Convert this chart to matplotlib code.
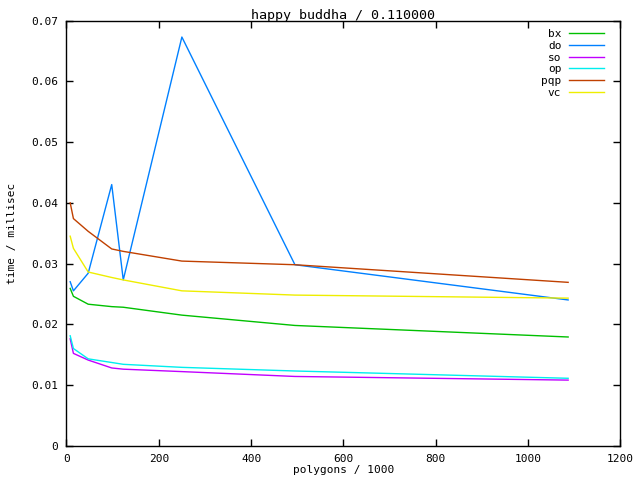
import matplotlib
matplotlib.use('Agg')
import matplotlib.pyplot as plt

# polygons / 1000 at each test level
polys = [8, 15, 47, 98, 123, 250, 495, 1087]

# time / millisec per method
bx = [0.0259, 0.0246, 0.0233, 0.0229, 0.0228, 0.0215, 0.0198, 0.0179]
do = [0.0270, 0.0255, 0.0284, 0.0430, 0.0273, 0.0673, 0.0298, 0.0240]
so = [0.0176, 0.0152, 0.0141, 0.0128, 0.0126, 0.0122, 0.0114, 0.0108]
op = [0.0181, 0.0160, 0.0143, 0.0137, 0.0134, 0.0129, 0.0123, 0.0111]
pqp = [0.0400, 0.0374, 0.0353, 0.0324, 0.0320, 0.0304, 0.0298, 0.0269]
vc = [0.0345, 0.0325, 0.0286, 0.0277, 0.0273, 0.0255, 0.0248, 0.0243]

names = ['bx', 'do', 'so', 'op', 'pqp', 'vc']
series = [bx, do, so, op, pqp, vc]
colors = ['#00c000', '#0080ff', '#c000ff', '#00eeee', '#c04000', '#eeee00']

xticks = [0, 200, 400, 600, 800, 1000, 1200]
yticks = [0, 0.01, 0.02, 0.03, 0.04, 0.05, 0.06, 0.07]
ylabels = ['0'] + ['%.2f' % t for t in yticks[1:]]

plt.rcParams['font.family'] = ['DejaVu Sans Mono']
plt.rcParams['font.size'] = 8

fig = plt.figure(figsize=(6.4, 4.8), dpi=100)
ax = fig.add_axes([0.1039, 0.0715, 0.8653, 0.8855])

for name, vals, c in zip(names, series, colors):
    ax.plot(polys, vals, color=c, lw=1, label=name)

ax.set_xlim(0, 1200)
ax.set_ylim(0, 0.07)
ax.set_xticks(xticks)
ax.set_yticks(yticks)
ax.set_yticklabels(ylabels)
ax.tick_params(direction='in', length=5, width=1, top=True, right=True,
               labeltop=False, labelright=False, pad=6)
for s in ax.spines.values():
    s.set_linewidth(1)

ax.set_xlabel('polygons / 1000', labelpad=1)
ax.set_ylabel('time / millisec', labelpad=10)
ax.set_title('happy buddha / 0.110000', pad=1)

ax.legend(loc='upper right', bbox_to_anchor=(0.978, 0.99), frameon=False,
          markerfirst=False, handlelength=3.1, handletextpad=0.7,
          labelspacing=0.15, borderaxespad=0)

fig.savefig('out.png', dpi=100)
